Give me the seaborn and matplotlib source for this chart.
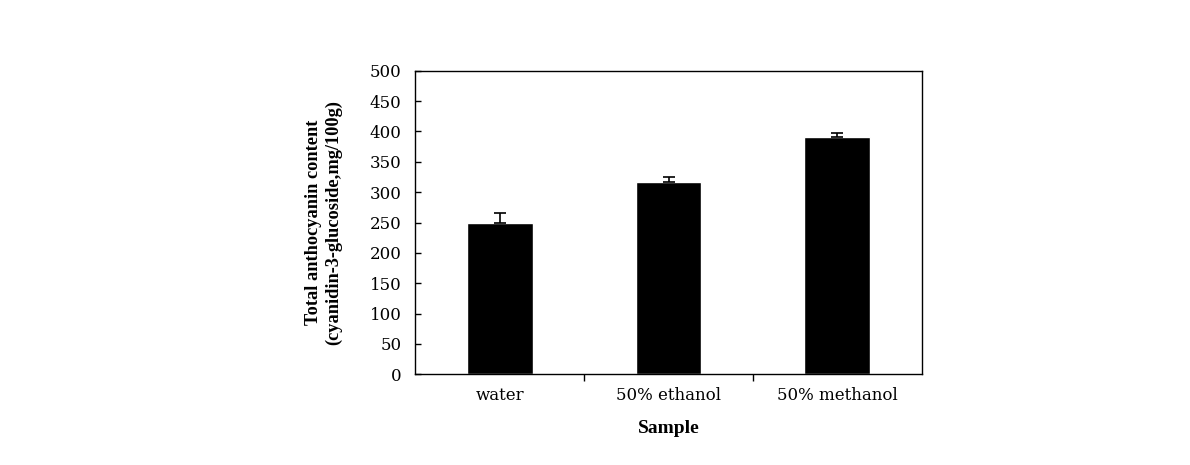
import matplotlib
matplotlib.use("Agg")
import matplotlib.pyplot as plt
import seaborn as sns
import numpy as np
import pandas as pd

samples = ["water", "50% ethanol", "50% methanol"]
values = [250, 316, 391]
errors = [15, 9, 6]
yticks = [0, 50, 100, 150, 200, 250, 300, 350, 400, 450, 500]

sns.set_theme(style="white")
plt.rcParams['font.family'] = ['DejaVu Serif', 'Liberation Serif']
plt.rcParams['text.color'] = 'black'
plt.rcParams['axes.labelcolor'] = 'black'
plt.rcParams['xtick.color'] = 'black'
plt.rcParams['ytick.color'] = 'black'

fig = plt.figure(figsize=(11.9, 4.65), dpi=100)
ax = fig.add_axes([0.349, 0.195, 0.4256, 0.653])

df = pd.DataFrame({"Sample": samples, "Value": values})
sns.barplot(data=df, x="Sample", y="Value", color="black", width=0.39,
            saturation=1, ax=ax, errorbar=None)
ax.errorbar(np.arange(len(samples)), values,
            yerr=[[0] * len(errors), errors], fmt="none",
            ecolor="black", elinewidth=1.2, capsize=4, capthick=1.2)

ax.set_xlim(-0.5, 2.5)
ax.set_ylim(0, 500)
ax.set_yticks(yticks)
ax.set_yticklabels([str(t) for t in yticks], fontsize=12)
ax.tick_params(axis="y", direction="in", length=4, width=1, left=True, pad=10)
ax.set_xticks(range(len(samples)))
ax.set_xticklabels(samples, fontsize=12)
ax.tick_params(axis="x", which="major", length=0, pad=9)
ax.set_xticks([0.5, 1.5], minor=True)
ax.tick_params(axis="x", which="minor", direction="out", length=5, width=1, bottom=True)

for s in ax.spines.values():
    s.set_color("black")
    s.set_linewidth(1)

ax.set_xlabel("Sample", fontsize=14, fontweight="bold", labelpad=12,
              family="Liberation Serif")
ax.set_ylabel("Total anthocyanin content\n(cyanidin-3-glucoside,mg/100g)",
              fontsize=13.2, fontweight="bold", labelpad=20,
              family="Liberation Serif", linespacing=1.2)

fig.savefig("out.png", dpi=100)
